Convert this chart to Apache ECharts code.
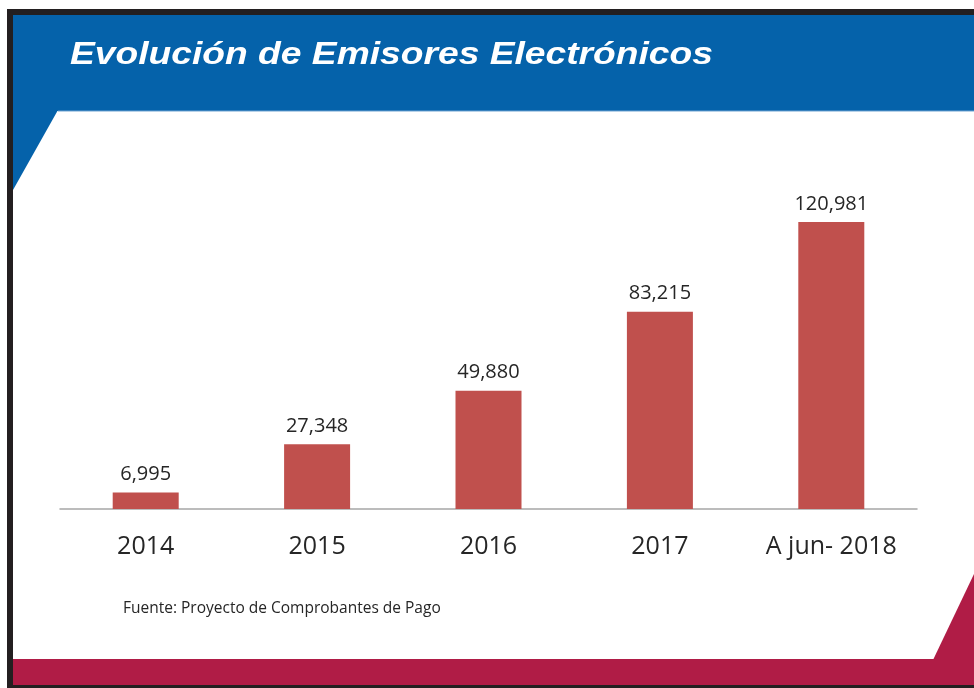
<!DOCTYPE html>
<html>
<head>
<meta charset="utf-8">
<script src="https://cdn.jsdelivr.net/npm/echarts@6/dist/echarts.min.js"></script>
<style>
  html, body { margin: 0; padding: 0; background: #ffffff; }
  #chart { width: 974px; height: 688px; }
</style>
</head>
<body>
<div id="chart"></div>
<script>
// Emisores electrónicos por año
const categories = ['2014', '2015', '2016', '2017', 'A jun- 2018'];
const emisores = [6995, 27348, 49880, 83215, 120981];

const titleText = 'Evolución de Emisores Electrónicos';
const sourceText = 'Fuente: Proyecto de Comprobantes de Pago';

const BLUE = '#0562AA';
const CRIMSON = '#B01C46';
const FRAME = '#231F20';

const fmt = v => String(v).replace(/\B(?=(\d{3})+(?!\d))/g, ',');

const chart = echarts.init(document.getElementById('chart'), null, { renderer: 'canvas' });

chart.setOption({
  backgroundColor: '#ffffff',
  animation: false,
  grid: { left: 60, right: 57, top: 177, bottom: 179 },
  xAxis: {
    type: 'category',
    data: categories,
    axisTick: { show: false },
    axisLine: { lineStyle: { color: '#A6A6A6', width: 1.5 } },
    axisLabel: {
      margin: 25,
      color: '#262626',
      fontFamily: 'Open Sans',
      fontSize: 25
    }
  },
  yAxis: {
    type: 'value',
    min: 0,
    max: 140000,
    show: false,
    splitLine: { show: false }
  },
  series: [{
    type: 'bar',
    data: emisores,
    barWidth: 66,
    itemStyle: { color: '#C0504D' },
    label: {
      show: true,
      position: 'top',
      distance: 8,
      color: '#262626',
      fontFamily: 'Open Sans',
      fontSize: 20,
      formatter: p => fmt(p.value)
    }
  }],
  graphic: [
    // header band and its slanted tail on the left
    { type: 'rect', z: -10, shape: { x: 13, y: 15, width: 961, height: 96 }, style: { fill: BLUE } },
    { type: 'polygon', z: -10, shape: { points: [[13, 110], [58, 110], [13, 190]] }, style: { fill: BLUE } },
    { type: 'line', z: -9, shape: { x1: 58, y1: 111, x2: 974, y2: 111 }, style: { stroke: '#6FA3D2', lineWidth: 1 } },
    // footer band and its wedge on the right
    { type: 'rect', z: -10, shape: { x: 13, y: 659, width: 961, height: 26 }, style: { fill: CRIMSON } },
    { type: 'polygon', z: -10, shape: { points: [[933, 660], [974, 574], [974, 660]] }, style: { fill: CRIMSON } },
    // dark frame
    { type: 'rect', z: -8, shape: { x: 7, y: 9, width: 967, height: 6 }, style: { fill: FRAME } },
    { type: 'rect', z: -8, shape: { x: 7, y: 9, width: 6, height: 679 }, style: { fill: FRAME } },
    { type: 'rect', z: -8, shape: { x: 7, y: 685, width: 967, height: 3 }, style: { fill: FRAME } },
    // title, drawn a little wide
    {
      type: 'text', z: 10, x: 70, y: 40, scaleX: 1.2,
      style: {
        text: titleText,
        fill: '#ffffff',
        font: 'italic bold 31px "Liberation Sans", Arial, sans-serif'
      }
    },
    // source note
    {
      type: 'text', z: 10, left: 123, top: 601,
      style: {
        text: sourceText,
        fill: '#262626',
        font: '15.5px "Open Sans", sans-serif'
      }
    }
  ]
});
</script>
</body>
</html>
